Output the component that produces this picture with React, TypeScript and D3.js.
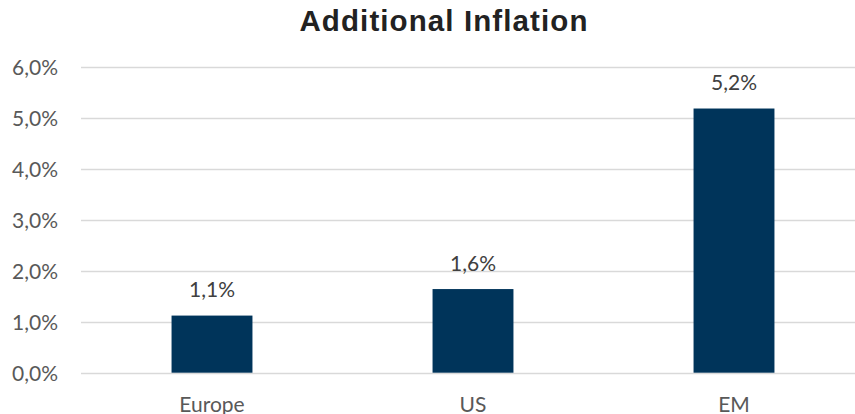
import React, { useRef, useEffect } from 'react';
import * as d3 from 'd3';

const categories = ['Europe', 'US', 'EM'];
const values = [1.12, 1.64, 5.18];
const valueLabels = ['1,1%', '1,6%', '5,2%'];
const yTicks = [0, 1, 2, 3, 4, 5, 6];

const W = 855;
const H = 414;

const App: React.FC = () => {
  const svgRef = useRef<SVGSVGElement>(null);

  useEffect(() => {
    if (!svgRef.current) return;
    const svg = d3.select(svgRef.current);
    svg.selectAll('*').remove();

    const x = d3.scaleBand<string>()
      .domain(categories)
      .range([81.5, 864.5])
      .paddingInner(0.69)
      .paddingOuter(0.345);

    const y = d3.scaleLinear().domain([0, 6]).range([372.7, 66.7]);

    const font = 'Lato, "Open Sans", sans-serif';

    // title
    svg.append('text')
      .attr('x', 444)
      .attr('y', 31)
      .attr('text-anchor', 'middle')
      .attr('font-family', 'Liberation Sans, Arial, sans-serif')
      .attr('font-weight', 'bold')
      .attr('font-size', 29.5)
      .attr('letter-spacing', 1.1)
      .attr('fill', '#222')
      .text('Additional Inflation');

    // gridlines
    svg.append('g').selectAll('line')
      .data(yTicks)
      .join('line')
      .attr('x1', 81)
      .attr('x2', W)
      .attr('y1', (d) => Math.round(y(d)) + 0.5)
      .attr('y2', (d) => Math.round(y(d)) + 0.5)
      .attr('stroke', '#d9d9d9')
      .attr('stroke-width', 1.5);

    // y tick labels
    svg.append('g').selectAll('text')
      .data(yTicks)
      .join('text')
      .attr('x', 58)
      .attr('y', (d) => y(d) + 8)
      .attr('text-anchor', 'end')
      .attr('font-family', font)
      .attr('font-size', 21)
      .attr('fill', '#595959')
      .text((d) => d3.format('.1f')(d).replace('.', ',') + '%');

    // bars
    svg.append('g').selectAll('rect')
      .data(values)
      .join('rect')
      .attr('x', (_, i) => x(categories[i])!)
      .attr('width', x.bandwidth())
      .attr('y', (d) => y(d))
      .attr('height', (d) => y(0) - y(d))
      .attr('fill', '#00345a');

    // value labels
    svg.append('g').selectAll('text')
      .data(values)
      .join('text')
      .attr('x', (_, i) => x(categories[i])! + x.bandwidth() / 2)
      .attr('y', (d) => y(d) - 18.5)
      .attr('text-anchor', 'middle')
      .attr('font-family', font)
      .attr('font-size', 21)
      .attr('fill', '#404040')
      .text((_, i) => valueLabels[i]);

    // category labels (cut at the bottom edge, as in the source)
    svg.append('g').selectAll('text')
      .data(categories)
      .join('text')
      .attr('x', (d) => x(d)! + x.bandwidth() / 2)
      .attr('y', 412)
      .attr('text-anchor', 'middle')
      .attr('font-family', font)
      .attr('font-size', 21)
      .attr('fill', '#595959')
      .text((d) => d);
  }, []);

  return (
    <div style={{ position: 'absolute', top: 0, left: 0 }}>
      <svg ref={svgRef} width={W} height={H} style={{ display: 'block', background: '#fff' }} />
    </div>
  );
};

export default App;
